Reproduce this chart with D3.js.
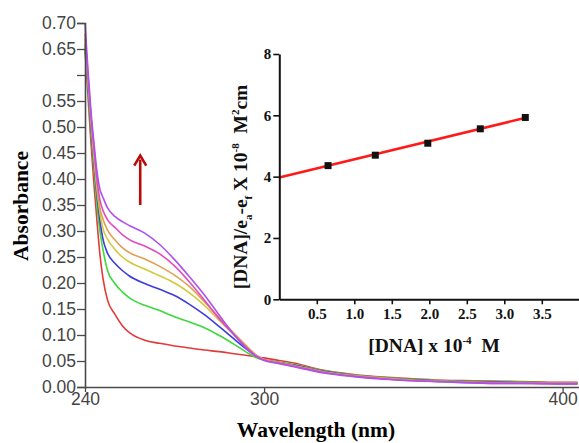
<!DOCTYPE html>
<html><head><meta charset="utf-8">
<script src="https://cdn.jsdelivr.net/npm/d3@7"></script>
<style>body{margin:0;background:#fff}svg{display:block}</style>
</head><body>
<script>
// ---------- main spectra data ----------
const wavelengths = [240,241,242,243,244,245,246,247.5,250,252.5,255,260,265,270,275,280,285,290,295,297.5,300,305,310,320,330,340,350,360,370,380,390,400,405];
const absRed    = [0.65,0.56,0.47,0.39,0.32,0.255,0.21,0.168,0.14,0.118,0.104,0.09,0.084,0.079,0.075,0.071,0.068,0.064,0.06,0.058,0.056,0.051,0.046,0.032,0.024,0.019,0.016,0.013,0.012,0.011,0.010,0.009,0.009];
const absGreen  = [0.65,0.57,0.49,0.42,0.35,0.30,0.265,0.225,0.199,0.183,0.171,0.157,0.147,0.135,0.125,0.114,0.099,0.082,0.064,0.056,0.052,0.048,0.043,0.031,0.023,0.018,0.015,0.012,0.011,0.010,0.009,0.008,0.008];
const absBlue   = [0.66,0.58,0.50,0.43,0.37,0.32,0.285,0.258,0.238,0.224,0.213,0.199,0.188,0.176,0.159,0.139,0.116,0.092,0.069,0.06,0.053,0.047,0.042,0.030,0.022,0.017,0.014,0.011,0.010,0.009,0.008,0.008,0.008];
const absYellow = [0.66,0.59,0.51,0.44,0.38,0.335,0.305,0.285,0.265,0.25,0.24,0.227,0.214,0.2,0.181,0.157,0.128,0.1,0.072,0.06,0.053,0.047,0.041,0.029,0.022,0.017,0.013,0.011,0.009,0.008,0.008,0.007,0.007];
const absOrange = [0.67,0.59,0.52,0.45,0.39,0.345,0.323,0.302,0.283,0.268,0.258,0.246,0.232,0.215,0.193,0.164,0.133,0.103,0.074,0.061,0.053,0.046,0.041,0.029,0.021,0.016,0.013,0.010,0.009,0.008,0.007,0.007,0.007];
const absPink   = [0.68,0.60,0.52,0.46,0.40,0.36,0.34,0.322,0.307,0.293,0.283,0.271,0.256,0.233,0.202,0.167,0.131,0.1,0.071,0.059,0.052,0.046,0.040,0.028,0.021,0.016,0.012,0.010,0.008,0.007,0.007,0.006,0.006];
const absPurple = [0.70,0.61,0.53,0.47,0.415,0.38,0.365,0.345,0.328,0.318,0.31,0.296,0.274,0.245,0.212,0.177,0.138,0.1,0.069,0.058,0.051,0.045,0.039,0.027,0.020,0.015,0.012,0.010,0.008,0.007,0.007,0.006,0.006];
const seriesNames = ["red","green","blue","yellow","orange","pink","purple"];
const seriesValues = [absRed,absGreen,absBlue,absYellow,absOrange,absPink,absPurple];
const seriesColors = ["#e23a3a","#3cd83c","#3c3ce0","#d2c83a","#e0a050","#e04cc0","#b050ec"];

const mainYTicks = [0,0.05,0.10,0.15,0.20,0.25,0.30,0.35,0.40,0.45,0.50,0.55,0.60,0.65,0.70];
const mainYTickLabels = ["0.00","0.05","0.10","0.15","0.20","0.25","0.30","0.35","0.40","0.45","0.50","0.55","","0.65","0.70"];
const mainXTicks = [240,300,400];
const arrowNm = 258.5, arrowFrom = 0.35, arrowTo = 0.445;

// ---------- inset data ----------
const dnaConc = [0.65,1.28,1.98,2.68,3.28];
const dnaRatio = [4.36,4.70,5.09,5.56,5.93];
const fitX = [0,3.3];
const fitY = [3.97,5.93];
const insetXTicks = [0.5,1.0,1.5,2.0,2.5,3.0,3.5];
const insetYTicks = [0,2,4,6,8];

const W = 579, H = 443;
const svg = d3.select("body").append("svg").attr("width",W).attr("height",H);

// ---------- main chart ----------
const x = d3.scaleLinear().domain([240,405.5]).range([85,579]);
const y = d3.scaleLinear().domain([0,0.70]).range([387,23]);
const line = d3.line().x((d,i)=>x(wavelengths[i])).y(d=>y(d)).curve(d3.curveMonotoneX);

const gLines = svg.append("g");
seriesValues.forEach((vals,k)=>{
  gLines.append("path").attr("d",line(vals)).attr("fill","none")
    .attr("stroke",seriesColors[k]).attr("stroke-width",1.6);
});

const yAxis = d3.axisLeft(y).tickValues(mainYTicks).tickFormat((d,i)=>mainYTickLabels[i]).tickSize(8).tickPadding(1);
const gy = svg.append("g").attr("transform","translate(85,0)").call(yAxis);
gy.select(".domain").attr("stroke","#4a4a4a").attr("stroke-width",1.6);
gy.selectAll(".tick line").attr("stroke","#4a4a4a").attr("stroke-width",1.3);
gy.selectAll(".tick text").attr("font-family","'Liberation Sans',Arial,sans-serif").attr("font-size",17.5).attr("fill","#444");

const xAxis = d3.axisBottom(x).tickValues(mainXTicks).tickSize(5).tickPadding(1).tickSizeOuter(0);
const gx = svg.append("g").attr("transform","translate(0,387)").call(xAxis);
gx.select(".domain").attr("stroke","#4a4a4a").attr("stroke-width",1.6);
gx.selectAll(".tick line").attr("stroke","#4a4a4a").attr("stroke-width",1.3);
gx.selectAll(".tick text").attr("font-family","'Liberation Sans',Arial,sans-serif").attr("font-size",17.5).attr("fill","#444");

svg.append("text").attr("x",316).attr("y",437).attr("text-anchor","middle")
  .attr("font-family","'Liberation Serif','Times New Roman',serif").attr("font-weight","bold").attr("font-size",21.5)
  .text("Wavelength (nm)");
svg.append("text").attr("transform","translate(28,206) rotate(-90)").attr("text-anchor","middle")
  .attr("font-family","'Liberation Serif','Times New Roman',serif").attr("font-weight","bold").attr("font-size",21.5)
  .text("Absorbance");

// arrow
const ax = x(arrowNm);
svg.append("line").attr("x1",ax).attr("x2",ax).attr("y1",y(arrowFrom)).attr("y2",y(arrowTo)+4)
  .attr("stroke","#b80c0c").attr("stroke-width",2.6);
svg.append("path").attr("d",`M${ax-6},${y(arrowTo)+10} L${ax},${y(arrowTo)} L${ax+6},${y(arrowTo)+10}`)
  .attr("fill","none").attr("stroke","#b80c0c").attr("stroke-width",2.6);

// ---------- inset ----------
const ix = d3.scaleLinear().domain([0,4]).range([279.3,579.3]);
const iy = d3.scaleLinear().domain([0,8]).range([299.3,54]);
const serifB = "'Liberation Serif','Times New Roman',serif";

svg.append("path").attr("d",d3.line().x(d=>ix(d[0])).y(d=>iy(d[1]))(fitX.map((v,i)=>[v,fitY[i]])))
  .attr("stroke","#ff1a1a").attr("stroke-width",2.6).attr("fill","none");

const iyAxis = d3.axisLeft(iy).tickValues(insetYTicks).tickFormat(d3.format("d")).tickSize(6).tickPadding(2).tickSizeOuter(0);
const giy = svg.append("g").attr("transform",`translate(${ix(0)},0)`).call(iyAxis);
const ixAxis = d3.axisBottom(ix).tickValues(insetXTicks).tickFormat(d3.format(".1f")).tickSize(5).tickPadding(4).tickSizeOuter(0);
const gix = svg.append("g").attr("transform",`translate(0,${iy(0)})`).call(ixAxis);
[giy,gix].forEach(g=>{
  g.select(".domain").attr("stroke","#111").attr("stroke-width",2);
  g.selectAll(".tick line").attr("stroke","#111").attr("stroke-width",1.6);
  g.selectAll(".tick text").attr("font-family",serifB).attr("font-weight","bold").attr("font-size",15).attr("fill","#111");
});

svg.append("g").selectAll("rect").data(dnaConc).join("rect")
  .attr("x",(d)=>ix(d)-3.5).attr("y",(d,i)=>iy(dnaRatio[i])-3.5).attr("width",7).attr("height",7).attr("fill","#111");

// inset x label
const xl = svg.append("text").attr("x",434).attr("y",352).attr("text-anchor","middle")
  .attr("font-family",serifB).attr("font-weight","bold").attr("font-size",19.5).attr("fill","#111");
xl.append("tspan").text("[DNA] x 10");
xl.append("tspan").attr("font-size",11).attr("dy",-8).text("-4");
xl.append("tspan").attr("dy",8).text("\u00a0\u00a0M");

// inset y label
const yl = svg.append("text").attr("transform","translate(247,187) rotate(-90)").attr("text-anchor","middle")
  .attr("font-family",serifB).attr("font-weight","bold").attr("font-size",19.5).attr("fill","#111");
yl.append("tspan").text("[DNA]/e");
yl.append("tspan").attr("font-size",11).attr("dy",5).text("a");
yl.append("tspan").attr("dy",-5).text("-e");
yl.append("tspan").attr("font-size",11).attr("dy",5).text("f");
yl.append("tspan").attr("dy",-5).text(" X 10");
yl.append("tspan").attr("font-size",11).attr("dy",-8).text("-8");
yl.append("tspan").attr("dy",8).text("\u00a0\u00a0M");
yl.append("tspan").attr("font-size",11).attr("dy",-8).text("2");
yl.append("tspan").attr("dy",8).text("cm");
</script>
</body></html>
